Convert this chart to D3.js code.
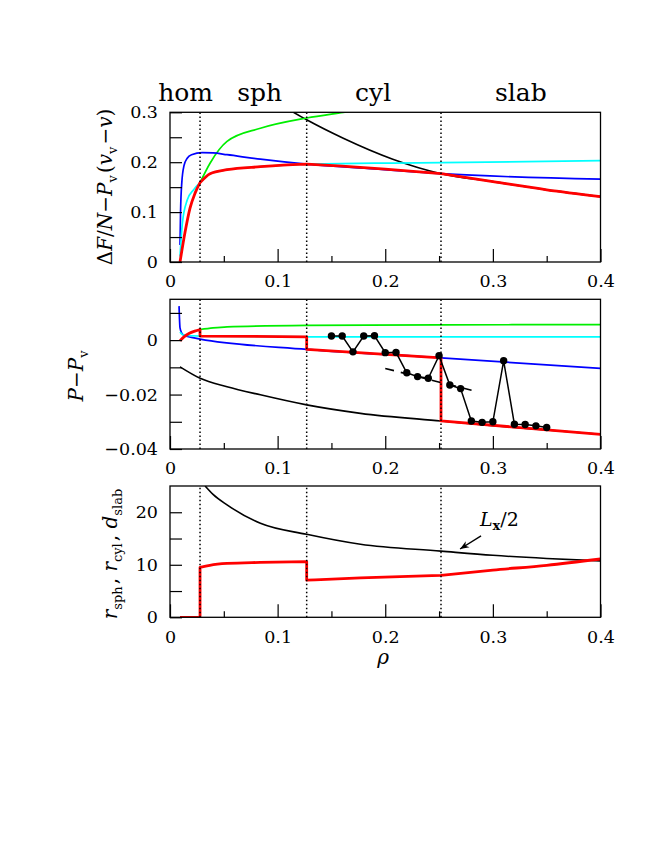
<!DOCTYPE html>
<html><head><meta charset="utf-8">
<script src="https://cdn.jsdelivr.net/npm/d3@7"></script>
<style>body{margin:0;background:#fff}</style>
</head><body>
<script>
// ---------- data ----------
const phaseNames = ["hom","sph","cyl","slab"];
const phaseLabelRho = [0.0145, 0.0833, 0.1887, 0.326];
const phaseBoundaries = [0.0279, 0.127, 0.2518];

const xTicksMajor = [0, 0.1, 0.2, 0.3, 0.4];
const xTickLabels = ["0", "0.1", "0.2", "0.3", "0.4"];
const xTicksMinor = [0.05, 0.15, 0.25, 0.35];

const topYTicks = [0, 0.05, 0.1, 0.15, 0.2, 0.25, 0.3];
const topYLabelTicks = [0, 0.1, 0.2, 0.3];
const topYLabels = ["0", "0.1", "0.2", "0.3"];
const midYTicks = [-0.04, -0.03, -0.02, -0.01, 0, 0.01];
const midYLabelTicks = [-0.04, -0.02, 0];
const midYLabels = ["\u22120.04", "\u22120.02", "0"];
const botYTicks = [0, 5, 10, 15, 20];
const botYLabelTicks = [0, 10, 20];
const botYLabels = ["0", "10", "20"];

// top panel: ΔF/N − P_v(v_v − v)
const topBlack = [[[0.1147,0.3],[0.127,0.285],[0.161,0.248],[0.207,0.206],[0.2518,0.177],[0.3,0.161],[0.35,0.1446],[0.4,0.131]]];
const topGreen = [[[0.0279,0.159],[0.0372,0.198],[0.053,0.2416],[0.084,0.268],[0.127,0.2886],[0.161,0.3],[0.17,0.303]]];
const topBlue = [[[0.0093,0.034],[0.0098,0.10],[0.011,0.16],[0.013,0.193],[0.016,0.208],[0.02,0.215],[0.03,0.219],[0.04,0.2185],[0.053,0.215],[0.084,0.206],[0.127,0.196],[0.19,0.1865],[0.2518,0.177],[0.4,0.166]]];
const topCyan = [
  [[0.0093,0.011],[0.0115,0.078],[0.016,0.124],[0.022,0.145],[0.0279,0.159]],
  [[0.0279,0.159],[0.0372,0.177],[0.053,0.185],[0.084,0.191],[0.105,0.194],[0.127,0.196]],
  [[0.127,0.196],[0.19,0.198],[0.2518,0.199],[0.4,0.203]]];
const topRed = [
  [[0.0093,0],[0.014,0.06],[0.0186,0.108],[0.0233,0.138],[0.0279,0.159]],
  [[0.0279,0.159],[0.0372,0.177],[0.053,0.185],[0.084,0.191],[0.105,0.194],[0.127,0.196]],
  [[0.127,0.196],[0.16,0.192],[0.2,0.186],[0.2518,0.177]],
  [[0.2518,0.177],[0.3,0.161],[0.35,0.1446],[0.4,0.131]]];

// middle panel: P − P_v
const midBlack = [[[0.0093,-0.0098],[0.028,-0.014],[0.053,-0.0171],[0.084,-0.0201],[0.127,-0.0238],[0.177,-0.0269],[0.2518,-0.0297],[0.3,-0.0314],[0.35,-0.033],[0.4,-0.0346]]];
const midGreen = [[[0.0279,0.0039],[0.04,0.0045],[0.053,0.0049],[0.127,0.0054],[0.25,0.0056],[0.4,0.0057]]];
const midBlue = [[[0.0084,0.0125],[0.0088,0.008],[0.0093,0.0045],[0.011,0.0025],[0.013,0.0018],[0.02,0.001],[0.028,0.0004],[0.127,-0.0034],[0.2518,-0.0065],[0.4,-0.0104]]];
const midCyan = [[[0.0093,0.003],[0.011,0.0022],[0.015,0.0017],[0.0279,0.0015],[0.127,0.0012],[0.4,0.0012]]];
const midRed = [
  [[0.0093,-0.0002],[0.013,0.0012],[0.018,0.0025],[0.023,0.0033],[0.0279,0.0039]],
  [[0.0279,0.0015],[0.127,0.0012]],
  [[0.127,-0.0034],[0.2518,-0.0065]],
  [[0.2518,-0.0297],[0.4,-0.0346]]];
const simRho = [0.15,0.16,0.17,0.18,0.19,0.20,0.21,0.22,0.23,0.24,0.25,0.26,0.27,0.28,0.29,0.30,0.31,0.32,0.33,0.34,0.35];
const simP = [0.0015,0.0015,-0.0043,0.0015,0.0016,-0.0046,-0.0045,-0.012,-0.0134,-0.014,-0.0057,-0.0165,-0.0178,-0.0297,-0.0302,-0.030,-0.0076,-0.0309,-0.031,-0.0315,-0.0321];
const dashedFit = [[0.2,-0.0104],[0.285,-0.0189]];

// bottom panel: sizes
const botBlack = [[[0.0326,25],[0.04,23.4],[0.053,21.4],[0.084,17.9],[0.127,15.8],[0.177,13.9],[0.2518,12.6],[0.3,11.8],[0.35,11.2],[0.4,10.75]]];
const botRed = [
  [[0.0093,0],[0.0279,0]],
  [[0.0279,9.5],[0.037,9.9],[0.053,10.25],[0.084,10.45],[0.127,10.6]],
  [[0.127,7.07],[0.177,7.5],[0.2518,8.0]],
  [[0.2518,8.0],[0.3,9.0],[0.35,9.9],[0.4,11.1]]];
const lxLabelPos = [0.288, 17.4];
const lxArrow = [[0.289,15.5],[0.2695,13.0]];

// ---------- drawing ----------
const W = 654, H = 846;
const FONT = "'DejaVu Serif', serif";
const svg = d3.select("body").append("svg").attr("width", W).attr("height", H)
  .style("font-family", FONT);

const x = d3.scaleLinear().domain([0, 0.4]).range([170, 600.5]);
const panels = [
  {id:"top", y: d3.scaleLinear().domain([0,0.3]).range([262,112.3]), yt: topYTicks, ylt: topYLabelTicks, yl: topYLabels},
  {id:"mid", y: d3.scaleLinear().domain([-0.04,0.015]).range([449,299.3]), yt: midYTicks, ylt: midYLabelTicks, yl: midYLabels},
  {id:"bot", y: d3.scaleLinear().domain([0,25]).range([617.3,486]), yt: botYTicks, ylt: botYLabelTicks, yl: botYLabels}
];

const defs = svg.append("defs");
defs.append("marker").attr("id","arr").attr("viewBox","0 0 10 10").attr("refX",10).attr("refY",5)
  .attr("markerWidth",11).attr("markerHeight",9).attr("markerUnits","userSpaceOnUse").attr("orient","auto")
  .append("path").attr("d","M0,1 L10,5 L0,9 L3,5 Z").attr("fill","#000");

function segPath(segs, y) {
  const line = d3.line().x(d => x(d[0])).y(d => y(d[1])).curve(d3.curveMonotoneX);
  return segs.map((s, i) => { const p = line(s); return i ? p.replace(/^M/, "L") : p; }).join("");
}

panels.forEach(p => {
  const y = p.y;
  const [y0, y1] = y.range();
  defs.append("clipPath").attr("id", "clip-" + p.id).append("rect")
    .attr("x", x(0)).attr("y", y1).attr("width", x(0.4) - x(0)).attr("height", y0 - y1);
  p.g = svg.append("g");
  p.plot = p.g.append("g").attr("clip-path", "url(#clip-" + p.id + ")");

  const ax = p.g.append("g").attr("transform", `translate(0,${y0})`)
    .call(d3.axisBottom(x).tickValues(xTicksMajor).tickSize(-13).tickPadding(13)
      .tickFormat((d, i) => xTickLabels[i]));
  ax.select(".domain").remove();
  const axm = p.g.append("g").attr("transform", `translate(0,${y0})`)
    .call(d3.axisBottom(x).tickValues(xTicksMinor).tickSize(-6).tickFormat(""));
  axm.select(".domain").remove();
  const ay = p.g.append("g").attr("transform", `translate(${x(0)},0)`)
    .call(d3.axisLeft(y).tickValues(p.yt).tickSize(-12).tickFormat(""));
  ay.select(".domain").remove();
  const ayl = p.g.append("g").attr("transform", `translate(${x(0)},0)`)
    .call(d3.axisLeft(y).tickValues(p.ylt).tickSize(0).tickPadding(12)
      .tickFormat((d, i) => p.yl[i]));
  ayl.select(".domain").remove();
  p.g.selectAll(".tick line").attr("stroke", "#000").attr("stroke-width", 1.2);
  p.g.selectAll(".tick text").attr("font-family", FONT).attr("font-size", 17.5).attr("fill", "#000");
});

const [T, M, B] = panels;
function drawSegs(p, segs, color, width) {
  p.plot.append("path").attr("d", segPath(segs, p.y)).attr("fill", "none")
    .attr("stroke", color).attr("stroke-width", width).attr("stroke-linejoin", "round");
}
const RED = "#ff0000", GREEN = "#00ee00", BLUE = "#0000ff", CYAN = "#00ffff";

drawSegs(T, topBlack, "#000", 1.6);
drawSegs(T, topGreen, GREEN, 1.7);
drawSegs(T, topBlue, BLUE, 1.7);
drawSegs(T, topCyan, CYAN, 1.7);
drawSegs(T, topRed, RED, 2.8);

drawSegs(M, midBlack, "#000", 1.6);
drawSegs(M, midGreen, GREEN, 1.7);
drawSegs(M, midBlue, BLUE, 1.7);
drawSegs(M, midCyan, CYAN, 1.7);
drawSegs(M, midRed, RED, 2.8);

drawSegs(B, botBlack, "#000", 1.6);
drawSegs(B, botRed, RED, 2.8);

// phase boundaries
panels.forEach(p => {
  const [y0, y1] = p.y.range();
  p.g.selectAll(".pb").data(phaseBoundaries).enter().append("line")
    .attr("x1", d => x(d)).attr("x2", d => x(d)).attr("y1", y0).attr("y2", y1)
    .attr("stroke", "#000").attr("stroke-width", 1.5).attr("stroke-dasharray", "1.5,2.5");
});

// simulation points
const simData = simRho.map((r, i) => [r, simP[i]]);
M.plot.append("path").attr("d", d3.line().x(d => x(d[0])).y(d => M.y(d[1]))(dashedFit))
  .attr("stroke", "#000").attr("stroke-width", 1.6).attr("stroke-dasharray", "9,7").attr("fill", "none");
M.plot.append("path").attr("d", d3.line().x(d => x(d[0])).y(d => M.y(d[1]))(simData))
  .attr("stroke", "#000").attr("stroke-width", 1.5).attr("fill", "none");
M.plot.selectAll("circle").data(simData).enter().append("circle")
  .attr("cx", d => x(d[0])).attr("cy", d => M.y(d[1])).attr("r", 3.7).attr("fill", "#000");

// frames
panels.forEach(p => {
  const [y0, y1] = p.y.range();
  p.g.append("rect").attr("x", x(0)).attr("y", y1).attr("width", x(0.4) - x(0)).attr("height", y0 - y1)
    .attr("fill", "none").attr("stroke", "#000").attr("stroke-width", 1.3);
});

// phase labels
svg.selectAll(".phase").data(phaseNames).enter().append("text")
  .attr("x", (d, i) => x(phaseLabelRho[i])).attr("y", 100.5).attr("text-anchor", "middle")
  .attr("font-size", 25).attr("fill", "#000").text(d => d);

// annotation
const lx = svg.append("text").attr("x", x(lxLabelPos[0])).attr("y", B.y(lxLabelPos[1]))
  .attr("font-size", 19).attr("fill", "#000");
lx.append("tspan").attr("font-style", "italic").text("L");
lx.append("tspan").attr("font-size", 13).attr("font-weight", "bold").attr("dy", 4).text("x");
lx.append("tspan").attr("dy", -4).text("/2");
svg.append("line").attr("x1", x(lxArrow[0][0])).attr("y1", B.y(lxArrow[0][1]))
  .attr("x2", x(lxArrow[1][0])).attr("y2", B.y(lxArrow[1][1]))
  .attr("stroke", "#000").attr("stroke-width", 1.4).attr("marker-end", "url(#arr)");

// axis titles
function ylabel(cx, cy, build) {
  const t = svg.append("text").attr("transform", `translate(${cx},${cy}) rotate(-90)`)
    .attr("text-anchor", "middle").attr("font-size", 20).attr("fill", "#000");
  build(t);
}
function sub(t, s, size) { t.append("tspan").attr("font-size", size || 13).attr("dy", 5).text(s); t.append("tspan").attr("dy", -5).text("\u200a"); }
function it(t, s) { t.append("tspan").attr("font-style", "italic").text(s); }
function rm(t, s) { t.append("tspan").text(s); }

ylabel(112, 187, t => {
  rm(t, "\u0394"); it(t, "F"); rm(t, "/"); it(t, "N"); rm(t, "\u2212"); it(t, "P"); sub(t, "v");
  rm(t, "("); it(t, "v"); sub(t, "v"); rm(t, "\u2212"); it(t, "v"); rm(t, ")");
});
ylabel(83, 375, t => { it(t, "P"); rm(t, "\u2212"); it(t, "P"); sub(t, "v"); });
ylabel(117, 553, t => {
  it(t, "r"); sub(t, "sph"); rm(t, ", "); it(t, "r"); sub(t, "cyl"); rm(t, ", "); it(t, "d"); sub(t, "slab");
});
svg.append("text").attr("x", x(0.198)).attr("y", 664).attr("text-anchor", "middle")
  .attr("font-size", 20).attr("font-style", "italic").attr("fill", "#000").text("\u03c1");
</script>
</body></html>
